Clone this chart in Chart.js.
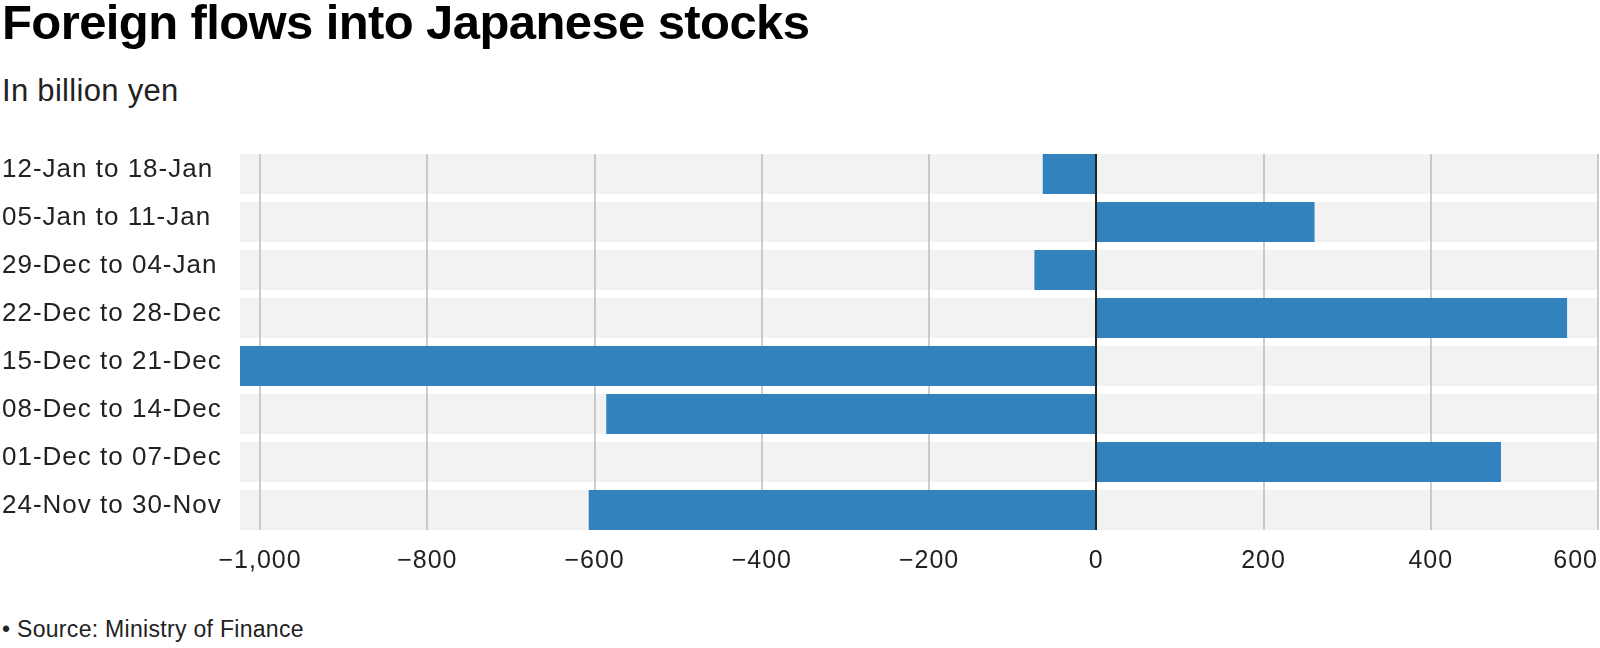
<!DOCTYPE html>
<html>
<head>
<meta charset="utf-8">
<title>Foreign flows into Japanese stocks</title>
<script src="https://cdn.jsdelivr.net/npm/chart.js@4.4.1/dist/chart.umd.min.js"></script>
<style>
  html, body { margin: 0; padding: 0; background: #fff; }
  body {
    width: 1600px; height: 648px; position: relative; overflow: hidden;
    font-family: 'Liberation Sans', Arial, Helvetica, sans-serif; color: #222;
  }
  .title { position: absolute; left: 2px; top: -2px; font-size: 49px; line-height: 49px; font-weight: bold; letter-spacing: -0.6px; color: #000; white-space: nowrap; }
  .subtitle { position: absolute; left: 2px; top: 75px; font-size: 31px; line-height: 31px; letter-spacing: 0.3px; white-space: nowrap; }
  .source { position: absolute; left: 2px; top: 618px; font-size: 23px; line-height: 23px; letter-spacing: 0.3px; white-space: nowrap; }
  .chart-box { position: absolute; left: 0; top: 150px; width: 1600px; height: 440px; }
</style>
</head>
<body>
  <div class="title">Foreign flows into Japanese stocks</div>
  <div class="subtitle">In billion yen</div>
  <div class="chart-box"><canvas id="flowsChart"></canvas></div>
  <div class="source">• Source: Ministry of Finance</div>

<script>
// weeks, top to bottom as in the chart
const weeks = [
  '12-Jan to 18-Jan',
  '05-Jan to 11-Jan',
  '29-Dec to 04-Jan',
  '22-Dec to 28-Dec',
  '15-Dec to 21-Dec',
  '08-Dec to 14-Dec',
  '01-Dec to 07-Dec',
  '24-Nov to 30-Nov'
];
// net foreign purchases, billion yen
const flows = [-64, 261, -74, 563, -1024, -586, 484, -607];
const xTicks = [-1000, -800, -600, -400, -200, 0, 200, 400, 600];

const barColor = '#3282bd';
const bandColor = '#f2f2f2';
const gridColor = '#bbbbbb';
const textColor = '#222';

function formatTick(v) {
  const s = Math.abs(v).toLocaleString('en-US');
  let label = v < 0 ? '\u2212' + s : s;
  // last label sits left of its gridline so it stays on the page
  if (v === xTicks[xTicks.length - 1]) label += '\u2007\u2007\u2007';
  return label;
}

// grey row bands + vertical gridlines, under the bars
const bandsPlugin = {
  id: 'bands',
  beforeDraw(chart) {
    const { ctx, chartArea } = chart;
    const bars = chart.getDatasetMeta(0).data;
    const xScale = chart.scales.x;
    ctx.save();
    ctx.fillStyle = bandColor;
    bars.forEach(b => {
      ctx.fillRect(chartArea.left, b.y - b.height / 2, chartArea.right - chartArea.left, b.height);
    });
    const top = bars[0].y - bars[0].height / 2;
    const last = bars[bars.length - 1];
    const bottom = last.y + last.height / 2;
    ctx.strokeStyle = gridColor;
    ctx.lineWidth = 1.5;
    xTicks.forEach(t => {
      if (t === 0) return;
      const px = Math.round(xScale.getPixelForValue(t));
      ctx.beginPath();
      ctx.moveTo(px, top);
      ctx.lineTo(px, bottom);
      ctx.stroke();
    });
    ctx.restore();
    ctx.letterSpacing = '1px';
  },
  afterDatasetsDraw(chart) {
    const { ctx } = chart;
    const bars = chart.getDatasetMeta(0).data;
    const top = bars[0].y - bars[0].height / 2;
    const last = bars[bars.length - 1];
    const bottom = last.y + last.height / 2;
    const px = Math.round(chart.scales.x.getPixelForValue(0));
    ctx.save();
    ctx.strokeStyle = '#222';
    ctx.lineWidth = 2;
    ctx.beginPath();
    ctx.moveTo(px, top);
    ctx.lineTo(px, bottom);
    ctx.stroke();
    ctx.restore();
  }
};

const ctx = document.getElementById('flowsChart').getContext('2d');
new Chart(ctx, {
  type: 'bar',
  data: {
    labels: weeks,
    datasets: [{
      data: flows,
      backgroundColor: barColor,
      borderWidth: 0,
      barPercentage: 1,
      categoryPercentage: 40 / 48
    }]
  },
  plugins: [bandsPlugin],
  options: {
    indexAxis: 'y',
    responsive: true,
    maintainAspectRatio: false,
    animation: false,
    layout: { padding: { left: 2, right: 2, top: 0, bottom: 0 } },
    plugins: {
      legend: { display: false },
      tooltip: { enabled: false }
    },
    scales: {
      x: {
        min: -1024,
        max: 600,
        grid: { display: false, drawTicks: false },
        border: { display: false },
        afterBuildTicks: scale => {
          scale.ticks = xTicks.map(v => ({ value: v }));
        },
        afterFit: scale => {
          scale.height = 56;
          scale.paddingLeft = 0;
          scale.paddingRight = 0;
        },
        ticks: {
          autoSkip: false,
          maxRotation: 0,
          padding: 12,
          color: textColor,
          font: { family: "'Liberation Sans', Arial, sans-serif", size: 25 },
          callback: v => formatTick(v)
        }
      },
      y: {
        grid: { display: false, drawTicks: false },
        border: { display: false },
        afterFit: scale => {
          scale.width = 238;
          scale.paddingTop = 0;
          scale.paddingBottom = 0;
        },
        ticks: {
          crossAlign: 'far',
          labelOffset: -4,
          color: textColor,
          font: { family: "'Liberation Sans', Arial, sans-serif", size: 26 }
        }
      }
    }
  }
});
</script>
</body>
</html>
